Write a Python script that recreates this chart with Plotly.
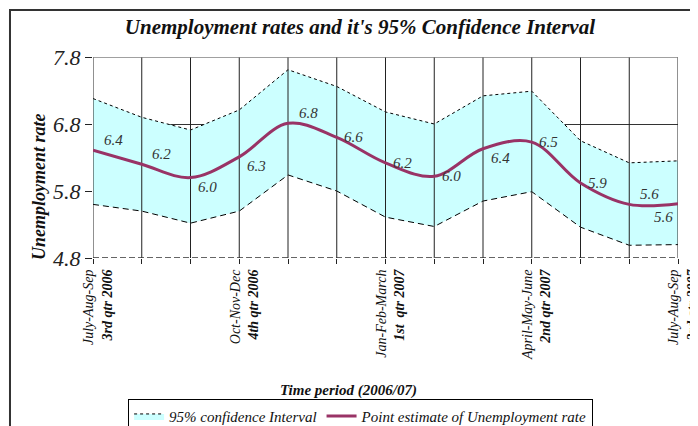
import plotly.graph_objects as go

# ---- data ----
periods = list(range(13))
tick_top = ["July-Aug-Sep", "", "", "Oct-Nov-Dec", "", "", "Jan-Feb-March", "", "",
            "April-May-June", "", "", "July-Aug-Sep"]
tick_bottom = ["3rd qtr 2006", "", "", "4th qtr 2006", "", "", "1st  qtr 2007", "", "",
               "2nd qtr 2007", "", "", "3rd qtr 2007"]
point_estimate = [6.41, 6.20, 6.00, 6.31, 6.81, 6.60, 6.22, 6.02, 6.43, 6.53, 5.92, 5.60, 5.61]
upper_ci = [7.18, 6.90, 6.71, 7.01, 7.61, 7.36, 6.98, 6.80, 7.22, 7.29, 6.55, 6.22, 6.25]
lower_ci = [5.60, 5.50, 5.32, 5.50, 6.04, 5.80, 5.41, 5.27, 5.65, 5.79, 5.26, 4.99, 5.00]
y_ticks = [4.8, 5.8, 6.8, 7.8]

# label placement style (relative to point): up-right, right, down-right, edge
label_place = ["ur", "ur", "dr", "dr", "ur", "r", "r", "r", "dr", "r", "r", "ur", "e"]

SERIF = "Liberation Serif"
y_min, y_max = y_ticks[0], y_ticks[-1]

ticktext = []
for a, b in zip(tick_top, tick_bottom):
    ticktext.append(f"{a}<br><b>{b}</b>" if a else "")

fig = go.Figure()

# white area below the band (hides gridlines)
fig.add_trace(go.Scatter(
    x=periods, y=lower_ci, mode="lines", fill="tozeroy", fillcolor="white",
    line=dict(color="black", width=1, dash="6px,4px"), showlegend=False, hoverinfo="skip"))
# the confidence band
fig.add_trace(go.Scatter(
    x=periods, y=upper_ci, mode="lines", fill="tonexty", fillcolor="#CCFFFF",
    line=dict(color="black", width=1, dash="dot"), name="95% confidence Interval"))

# vertical lines at every period, drawn over the band
gx, gy = [], []
for p in periods:
    gx += [p, p, None]
    gy += [y_min, y_max, None]
fig.add_trace(go.Scatter(x=gx, y=gy, mode="lines", line=dict(color="#222222", width=1),
                         showlegend=False, hoverinfo="skip"))

# point estimate line
fig.add_trace(go.Scatter(
    x=periods, y=point_estimate, mode="lines", line=dict(color="#993366", width=3, shape="spline"),
    name="Point estimate of Unemployment rate", cliponaxis=False))

# data labels
shift = {"ur": (20, 10), "r": (17, 0), "dr": (17, -9), "e": (-3, -13)}
for p, v, pos in zip(periods, point_estimate, label_place):
    dx, dy = shift[pos]
    fig.add_annotation(x=p, y=v, text=f"{v:.1f}", showarrow=False, xshift=dx, yshift=dy,
                       xanchor="right" if pos == "e" else "center",
                       font=dict(family=SERIF, size=15, color="#333333", style="italic"))

# dashed baseline at the bottom of the value axis
fig.add_shape(type="line", xref="paper", x0=0, x1=1, yref="y", y0=y_min, y1=y_min,
              line=dict(color="#333333", width=1.5, dash="6px,3px"))
# top border of plot area (grey)
fig.add_shape(type="line", xref="paper", x0=0, x1=1, yref="y", y0=y_max, y1=y_max,
              line=dict(color="#808080", width=1.5))
# outer chart frame
fig.add_shape(type="rect", xref="paper", yref="paper", x0=-0.1419, x1=1.2, y0=-1.5, y1=1.234,
              line=dict(color="#333333", width=2), layer="above")

fig.update_layout(
    width=690, height=418,
    margin=dict(l=85, r=20, t=49, b=168, autoexpand=False),
    paper_bgcolor="white", plot_bgcolor="white",
    title=dict(text="<b><i>Unemployment rates and it's 95% Confidence Interval</i></b>",
               x=0.51, xanchor="center", y=0.9545, yanchor="middle",
               font=dict(family=SERIF, size=21, color="#111111")),
    showlegend=True,
    legend=dict(orientation="h", x=0.06, xanchor="left", y=-0.70, yanchor="top",
                bordercolor="black", borderwidth=1, bgcolor="white", traceorder="normal",
                font=dict(family=SERIF, size=15, color="#111111", style="italic"),
                itemwidth=30, tracegroupgap=0),
    xaxis=dict(range=[0, 12], tickvals=periods, ticktext=ticktext, tickangle=-90,
               ticks="outside", ticklen=5, tickcolor="#222222", showgrid=False,
               zeroline=False, showline=False, ticklabelshift=5, automargin=False,
               ticklabeloverflow="allow",
               tickfont=dict(family=SERIF, size=14, color="#111111", style="italic")),
    yaxis=dict(range=[y_min, y_max], tickvals=y_ticks, ticktext=[f"{t:.1f}" for t in y_ticks],
               ticks="outside", ticklen=7, tickcolor="#222222", showgrid=True,
               gridcolor="#333333", gridwidth=1, zeroline=False, showline=False, automargin=False,
               tickfont=dict(family=SERIF, size=22, color="#222222", style="italic")),
)

fig.add_annotation(xref="paper", yref="paper", x=-0.1128, y=0.353, textangle=-90,
                   text="<b><i>Unemployment rate</i></b>", showarrow=False,
                   font=dict(family=SERIF, size=18, color="#111111"))
fig.add_annotation(xref="paper", yref="paper", x=0.4376, y=-0.712,
                   text="<b><i>Time period (2006/07)</i></b>", showarrow=False,
                   font=dict(family=SERIF, size=15, color="#111111"))

fig.write_html("out.html")
